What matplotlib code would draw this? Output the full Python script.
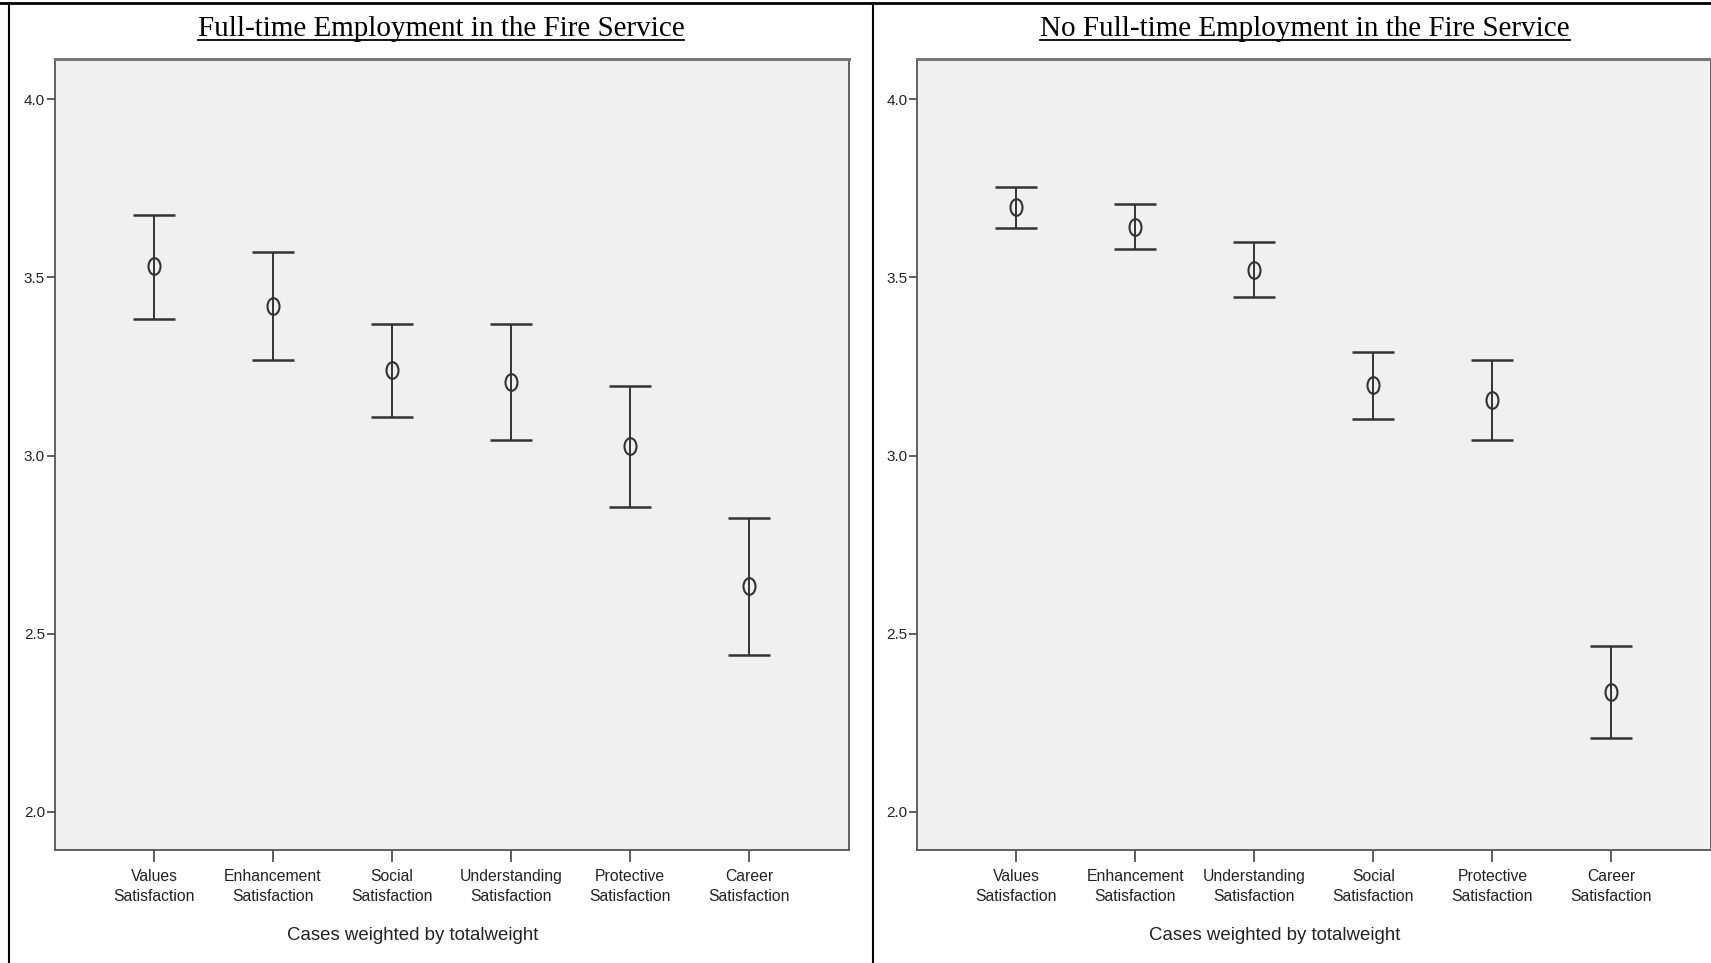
import matplotlib
matplotlib.use("Agg")
import matplotlib.pyplot as plt
from matplotlib import font_manager
from matplotlib.lines import Line2D
from matplotlib.path import Path
from matplotlib.transforms import Affine2D

# data
labels_ft = ["Values\nSatisfaction", "Enhancement\nSatisfaction", "Social\nSatisfaction",
             "Understanding\nSatisfaction", "Protective\nSatisfaction", "Career\nSatisfaction"]
mean_ft = [3.531, 3.421, 3.240, 3.207, 3.026, 2.634]
upper_ft = [3.675, 3.571, 3.369, 3.369, 3.194, 2.824]
lower_ft = [3.384, 3.268, 3.109, 3.044, 2.855, 2.441]

labels_no = ["Values\nSatisfaction", "Enhancement\nSatisfaction", "Understanding\nSatisfaction",
             "Social\nSatisfaction", "Protective\nSatisfaction", "Career\nSatisfaction"]
mean_no = [3.697, 3.642, 3.522, 3.198, 3.155, 2.337]
upper_no = [3.755, 3.706, 3.599, 3.292, 3.268, 2.466]
lower_no = [3.639, 3.580, 3.446, 3.103, 3.044, 2.208]

titles = ["Full-time Employment in the Fire Service",
          "No Full-time Employment in the Fire Service"]
yticks = [2.0, 2.5, 3.0, 3.5, 4.0]
xlabel = "Cases weighted by totalweight"

# SPSS uses a narrow sans; take one if the box has it
names = {f.name for f in font_manager.fontManager.ttflist}
if "Liberation Sans Narrow" in names:
    narrow = ["Liberation Sans Narrow", "DejaVu Sans"]
    tick_fs, lab_fs, y_fs = 12.5, 15, 12
else:
    narrow = ["Liberation Sans", "DejaVu Sans"]
    tick_fs, lab_fs, y_fs = 11.3, 13.4, 11
serif = ["Liberation Serif", "DejaVu Serif"]

# "O" shaped marker, a bit taller than wide
oval = Path.unit_circle().transformed(Affine2D().scale(0.72, 1.0))

W, H = 1711, 963
fig = plt.figure(figsize=(W / 100, H / 100), dpi=100)
fig.patch.set_facecolor("white")


def panel(rect, labels, mean, upper, lower, title, title_x):
    ax = fig.add_axes(rect)
    ax.set_facecolor("#f0f0f0")
    x = list(range(len(labels)))
    err = [[m - l for m, l in zip(mean, lower)], [u - m for m, u in zip(mean, upper)]]
    ax.errorbar(x, mean, yerr=err, fmt="none", ecolor="#333333", elinewidth=1.4,
                capsize=15, capthick=1.8)
    ax.plot(x, mean, linestyle="none", marker=oval, markersize=12,
            markerfacecolor="none", markeredgecolor="#333333", markeredgewidth=1.5)
    ax.set_xlim(-0.835, 5.84)
    ax.set_ylim(1.893, 4.113)
    ax.set_yticks(yticks)
    ax.set_yticklabels(["%.1f" % v for v in yticks], family=narrow, fontsize=y_fs,
                       color="#222222")
    ax.set_xticks(x)
    ax.set_xticklabels(labels, family=narrow, fontsize=tick_fs, linespacing=1.45,
                       color="#222222")
    ax.tick_params(axis="x", length=8.5, width=1.2, color="#444444", pad=5)
    ax.tick_params(axis="y", length=6, width=1.2, color="#444444", pad=1)
    for s in ax.spines.values():
        s.set_color("#555555")
        s.set_linewidth(1.3)
    ax.spines["top"].set_linewidth(2.2)
    ax.spines["top"].set_color("#777777")
    ax.set_xlabel(xlabel, family=narrow, fontsize=lab_fs, color="#222222", va="center")
    ax.xaxis.set_label_coords(0.4505, -0.1085)
    t = fig.text(title_x, 1 - 36 / H, title, family=serif, fontsize=21,
                 ha="center", va="baseline")
    # underline the title
    fig.canvas.draw()
    bb = t.get_window_extent()
    fig.add_artist(Line2D([bb.x0 / W, bb.x1 / W], [1 - 40.5 / H] * 2,
                          color="black", lw=1.3))
    return ax


panel([54.6 / W, 1 - 850 / H, 794.4 / W, 791 / H],
      labels_ft, mean_ft, upper_ft, lower_ft, titles[0], 441 / W)
panel([917 / W, 1 - 850 / H, 794.4 / W, 791 / H],
      labels_no, mean_no, upper_no, lower_no, titles[1], 1305 / W)

# table border lines around the two cells
fig.add_artist(Line2D([0, 1], [1 - 3 / H] * 2, color="black", lw=2))
fig.add_artist(Line2D([9 / W] * 2, [0, 1 - 3 / H], color="black", lw=1.5))
fig.add_artist(Line2D([873 / W] * 2, [0, 1 - 3 / H], color="black", lw=1.5))

fig.savefig("out.png", dpi=100)
